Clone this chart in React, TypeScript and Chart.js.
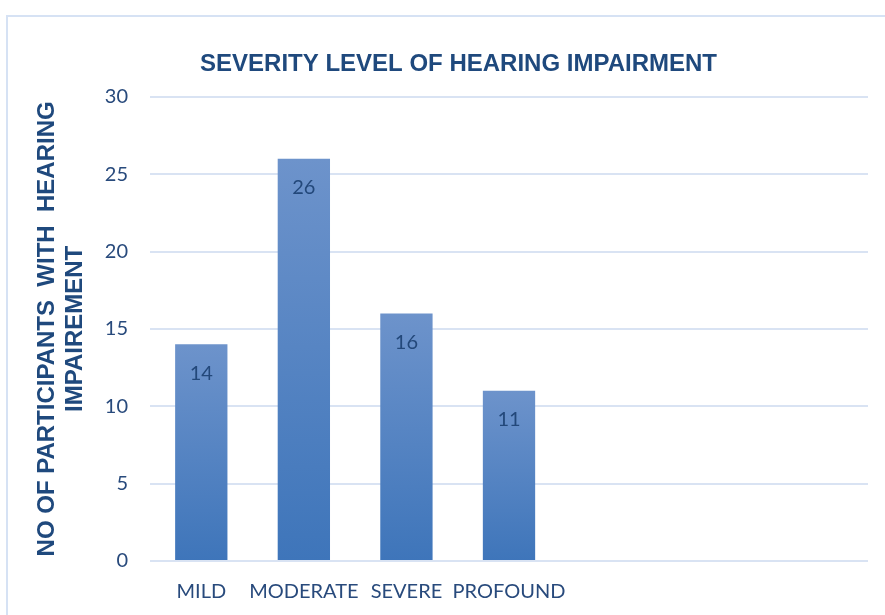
import React, { useEffect, useRef } from 'react';
import { Chart, registerables } from 'chart.js';

Chart.register(...registerables);

const categories = ['MILD', 'MODERATE', 'SEVERE', 'PROFOUND', '', '', ''];
const participants: (number | null)[] = [14, 26, 16, 11, null, null, null];
const yMin = 0;
const yMax = 30;
const yStep = 5;
const chartTitle = 'SEVERITY LEVEL OF HEARING IMPAIRMENT';
const yTitle = ['NO OF PARTICIPANTS  WITH  HEARING', 'IMPAIREMENT'];

const TITLE_COLOR = '#1f497d';
const TICK_COLOR = '#284a7c';
const GRID_COLOR = '#d9e3f3';
const BAR_TOP = '#6d93cb';
const BAR_BOTTOM = '#3e75ba';

const barLabelPlugin = {
  id: 'barLabels',
  afterDatasetsDraw(chart: any) {
    const ctx = chart.ctx;
    const meta = chart.getDatasetMeta(0);
    ctx.save();
    ctx.font = '20px Lato';
    ctx.fillStyle = '#23487a';
    ctx.textAlign = 'center';
    ctx.textBaseline = 'middle';
    meta.data.forEach((el: any, i: number) => {
      const v = participants[i];
      if (v == null) return;
      ctx.fillText(String(v), el.x, el.y + 29);
    });
    ctx.restore();
  },
};

export default function App() {
  const canvasRef = useRef<HTMLCanvasElement | null>(null);

  useEffect(() => {
    const canvas = canvasRef.current;
    if (!canvas) return;
    const chart = new Chart(canvas, {
      type: 'bar',
      data: {
        labels: categories,
        datasets: [
          {
            data: participants,
            categoryPercentage: 1,
            barPercentage: 0.51,
            borderWidth: 0,
            backgroundColor: (c: any) => {
              const ch = c.chart;
              const ys = ch.scales && ch.scales.y;
              if (!ch.chartArea || !ys || c.raw == null) return BAR_BOTTOM;
              const top = ys.getPixelForValue(c.raw);
              const base = ys.getPixelForValue(0);
              if (!isFinite(top) || !isFinite(base) || top === base) return BAR_BOTTOM;
              const g = ch.ctx.createLinearGradient(0, top, 0, base);
              g.addColorStop(0, BAR_TOP);
              g.addColorStop(1, BAR_BOTTOM);
              return g;
            },
          },
        ],
      },
      options: {
        responsive: false,
        animation: false,
        devicePixelRatio: 1,
        layout: { padding: { left: 49, right: 17, top: 0, bottom: 0 } },
        plugins: {
          legend: { display: false },
          tooltip: { enabled: false },
          title: {
            display: true,
            text: chartTitle,
            color: TITLE_COLOR,
            font: { family: '"Liberation Sans", Arial, sans-serif', size: 24, weight: 'bold', lineHeight: 1.2 },
            padding: { top: 50, bottom: 18 },
          },
        },
        scales: {
          x: {
            grid: { display: false },
            border: { display: false },
            ticks: {
              color: TICK_COLOR,
              font: { family: 'Lato', size: 20 },
              padding: 11,
              maxRotation: 0,
              autoSkip: false,
            },
            afterFit: (s: any) => {
              s.height = 54;
            },
          },
          y: {
            min: yMin,
            max: yMax,
            border: { display: false },
            grid: { color: GRID_COLOR, lineWidth: 2, drawTicks: false },
            ticks: {
              stepSize: yStep,
              color: TICK_COLOR,
              font: { family: 'Lato', size: 20 },
              padding: 22,
            },
            title: {
              display: true,
              text: yTitle,
              color: TITLE_COLOR,
              font: { family: '"Liberation Sans", Arial, sans-serif', size: 24, weight: 'bold', lineHeight: 28 / 24 },
              padding: { top: -16, bottom: 0 },
            },
            afterFit: (s: any) => {
              s.width = 101;
            },
          },
        },
      },
      plugins: [barLabelPlugin],
    } as any);
    return () => chart.destroy();
  }, []);

  return (
    <div style={{ position: 'absolute', left: 0, top: 0, width: 885, height: 615, background: '#ffffff', overflow: 'hidden' }}>
      <div
        style={{
          position: 'absolute',
          left: 6,
          top: 15,
          width: 900,
          height: 640,
          border: '2px solid #d6e2f4',
          boxSizing: 'border-box',
        }}
      />
      <canvas ref={canvasRef} width={885} height={615} style={{ position: 'absolute', left: 0, top: 0, width: 885, height: 615 }} />
    </div>
  );
}
